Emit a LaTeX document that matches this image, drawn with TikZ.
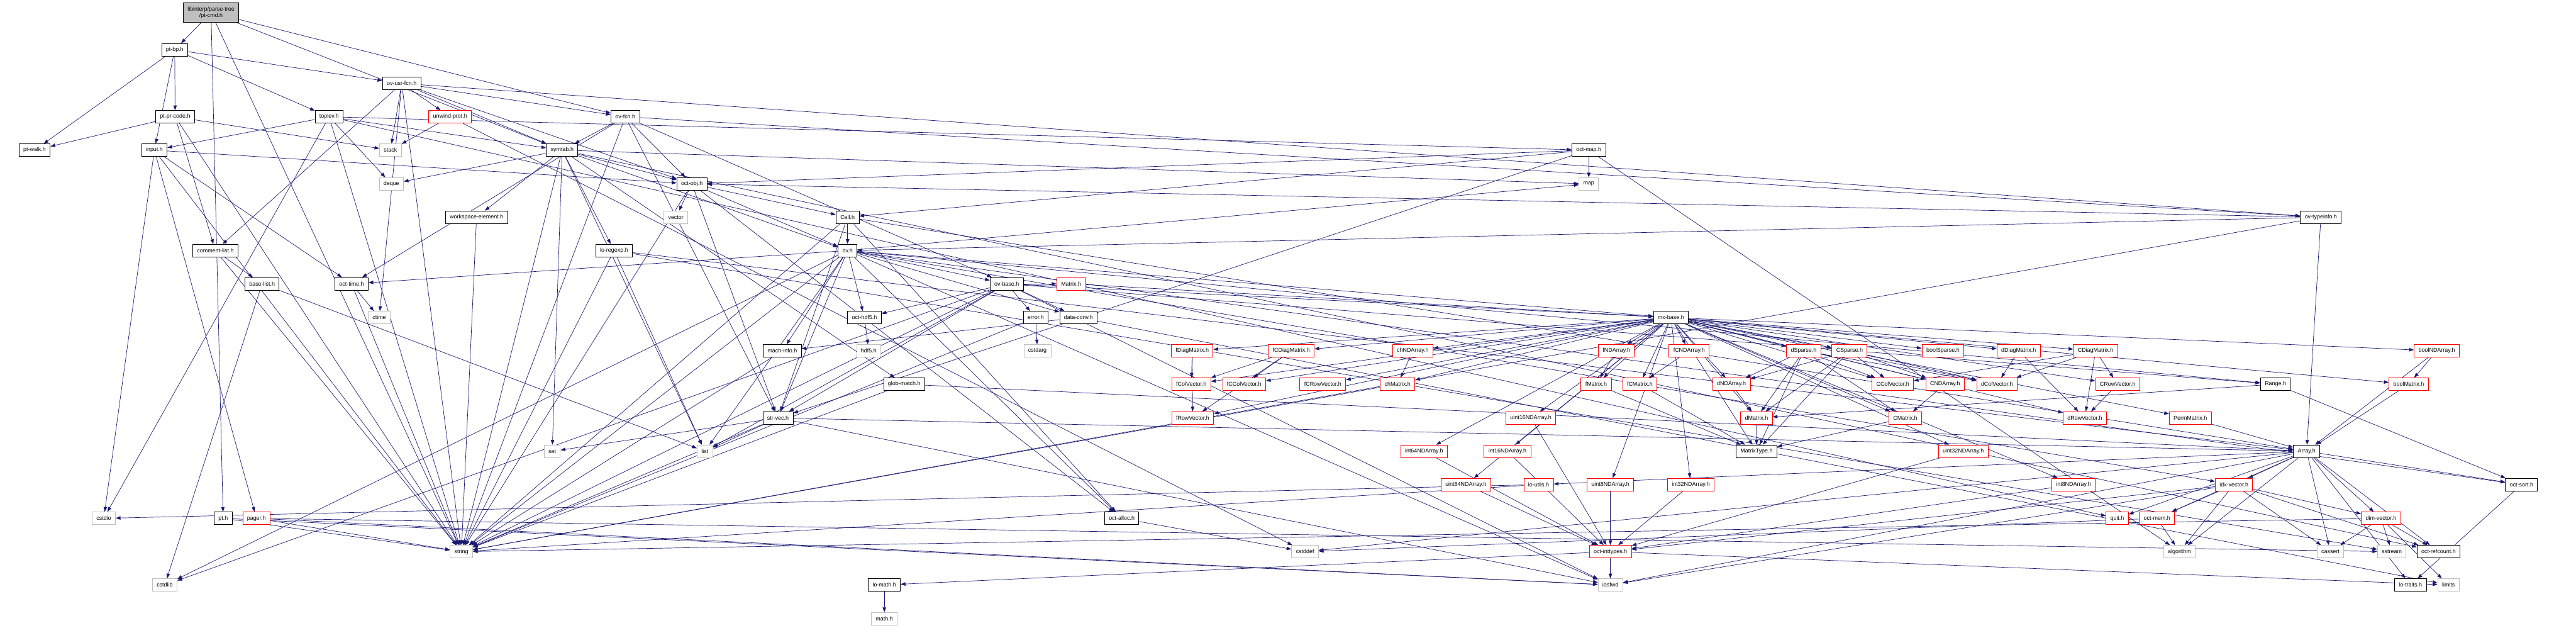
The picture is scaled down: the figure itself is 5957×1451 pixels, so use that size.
\documentclass[tikz,border=0pt]{standalone}
\usepackage{fontspec}
\setmainfont{Liberation Sans}
\usetikzlibrary{arrows.meta}
\definecolor{EdgeBlue}{RGB}{25, 25, 112}
\definecolor{SysGrey}{RGB}{191, 191, 191}
\definecolor{TruncRed}{RGB}{255, 0, 0}
\pgfdeclarelayer{edges}
\pgfsetlayers{edges,main}

\begin{document}
\begin{tikzpicture}[x=1pt, y=-1pt, font=\fontsize{13}{15}\selectfont,
  hdr/.style={draw=black, line width=1.3pt, fill=white, inner xsep=10pt, inner ysep=0pt, minimum height=29pt},
  trunc/.style={hdr, draw=TruncRed},
  sys/.style={hdr, draw=SysGrey},
  root/.style={hdr, fill=SysGrey, align=center, minimum height=45pt},
  dep/.style={draw=EdgeBlue, line width=1pt, -{Triangle[length=11pt, width=8pt]}}]
\useasboundingbox (0,0) rectangle (5957,1451);

\node[root] (pcmd) at (488,29) {libinterp/parse-tree\\/pt-cmd.h};
\node[hdr] (ptbp) at (404,115) {pt-bp.h};
\node[hdr] (ovusr) at (929,193) {ov-usr-fcn.h};
\node[hdr] (ptpr) at (405,270) {pt-pr-code.h};
\node[hdr] (toplev) at (761,270) {toplev.h};
\node[trunc] (unwind) at (1041,270) {unwind-prot.h};
\node[hdr] (ovfcn) at (1446,270) {ov-fcn.h};
\node[hdr] (ptwalk) at (80,347) {pt-walk.h};
\node[hdr] (input) at (357,347) {input.h};
\node[sys] (stack) at (903,347) {stack};
\node[hdr] (symtab) at (1300,347) {symtab.h};
\node[hdr] (octmap) at (3674,347) {oct-map.h};
\node[sys] (deque) at (905,425) {deque};
\node[hdr] (octobj) at (1600,425) {oct-obj.h};
\node[sys] (map) at (3674,425) {map};
\node[hdr] (wse) at (1102,502) {workspace-element.h};
\node[sys] (vector) at (1563,502) {vector};
\node[hdr] (cell) at (1960,502) {Cell.h};
\node[hdr] (typeinfo) at (5367,502) {ov-typeinfo.h};
\node[hdr] (cmtlist) at (498,579) {comment-list.h};
\node[hdr] (regexp) at (1420,579) {lo-regexp.h};
\node[hdr] (ov) at (1960,579) {ov.h};
\node[hdr] (baselist) at (606,656) {base-list.h};
\node[hdr] (octtime) at (813,656) {oct-time.h};
\node[hdr] (ovbase) at (2328,656) {ov-base.h};
\node[trunc] (matrix) at (2477,656) {Matrix.h};
\node[sys] (ctime) at (877,734) {ctime};
\node[hdr] (ohdf5) at (1999,734) {oct-hdf5.h};
\node[hdr] (error) at (2395,734) {error.h};
\node[hdr] (dataconv) at (2494,734) {data-conv.h};
\node[hdr] (mxbase) at (3864,734) {mx-base.h};

% matrix classes
\node[hdr] (machinfo) at (1809,811) {mach-info.h};
\node[sys] (hdf5) at (2009,811) {hdf5.h};
\node[sys] (cstdarg) at (2399,811) {cstdarg};
\node[trunc] (fDiag) at (2757,811) {fDiagMatrix.h};
\node[trunc] (fCDiag) at (2986,811) {fCDiagMatrix.h};
\node[trunc] (chNDA) at (3267,811) {chNDArray.h};
\node[trunc] (fNDA) at (3738,811) {fNDArray.h};
\node[trunc] (fCNDA) at (3906,811) {fCNDArray.h};
\node[trunc] (dSparse) at (4171,811) {dSparse.h};
\node[trunc] (CSparse) at (4277,811) {CSparse.h};
\node[trunc] (boolSparse) at (4493,811) {boolSparse.h};
\node[trunc] (dDiag) at (4668,811) {dDiagMatrix.h};
\node[trunc] (CDiag) at (4846,811) {CDiagMatrix.h};
\node[trunc] (boolNDA) at (5635,811) {boolNDArray.h};
\node[hdr] (globmatch) at (2091,888) {glob-match.h};
\node[trunc] (fColVec) at (2755,888) {fColVector.h};
\node[trunc] (fCColVec) at (2877,888) {fCColVector.h};
\node[trunc] (fCRowVec) at (3059,888) {fCRowVector.h};
\node[trunc] (chMatrix) at (3232,888) {chMatrix.h};
\node[trunc] (fMatrix) at (3691,888) {fMatrix.h};
\node[trunc] (fCMatrix) at (3792,888) {fCMatrix.h};
\node[trunc] (dNDA) at (4004,888) {dNDArray.h};
\node[trunc] (CColVec) at (4377,888) {CColVector.h};
\node[trunc] (CNDA) at (4498,888) {CNDArray.h};
\node[trunc] (dColVec) at (4618,888) {dColVector.h};
\node[trunc] (CRowVec) at (4897,888) {CRowVector.h};
\node[hdr] (range) at (5262,888) {Range.h};
\node[trunc] (boolMatrix) at (5570,888) {boolMatrix.h};
\node[hdr] (strvec) at (1799,966) {str-vec.h};
\node[trunc] (fRowVec) at (2758,966) {fRowVector.h};
\node[trunc] (uint16) at (3540,966) {uint16NDArray.h};
\node[trunc] (dMatrix) at (4062,966) {dMatrix.h};
\node[trunc] (CMatrix) at (4406,966) {CMatrix.h};
\node[trunc] (dRowVec) at (4821,966) {dRowVector.h};
\node[trunc] (perm) at (5065,966) {PermMatrix.h};
\node[sys] (set) at (1277,1043) {set};
\node[sys] (list) at (1630,1043) {list};
\node[trunc] (int64) at (3293,1043) {int64NDArray.h};
\node[trunc] (int16) at (3486,1043) {int16NDArray.h};
\node[hdr] (mtype) at (4062,1043) {MatrixType.h};
\node[trunc] (uint32) at (4540,1043) {uint32NDArray.h};
\node[hdr] (array) at (5334,1043) {Array.h};
\node[trunc] (uint64) at (3390,1120) {uint64NDArray.h};
\node[trunc] (loutils) at (3558,1120) {lo-utils.h};
\node[trunc] (uint8) at (3724,1120) {uint8NDArray.h};
\node[trunc] (int32) at (3910,1120) {int32NDArray.h};
\node[trunc] (int8) at (4795,1120) {int8NDArray.h};
\node[trunc] (idxvec) at (5166,1120) {idx-vector.h};
\node[hdr] (octsort) at (5831,1120) {oct-sort.h};

% leaves
\node[sys] (cstdio) at (240,1198) {cstdio};
\node[hdr] (pt) at (516,1198) {pt.h};
\node[trunc] (pager) at (593,1198) {pager.h};
\node[hdr] (octalloc) at (2594,1198) {oct-alloc.h};
\node[trunc] (quit) at (4896,1198) {quit.h};
\node[trunc] (octmem) at (4988,1198) {oct-mem.h};
\node[trunc] (dimvec) at (5506,1198) {dim-vector.h};
\node[sys] (string) at (1067,1275) {string};
\node[sys] (cstddef) at (3018,1275) {cstddef};
\node[trunc] (inttypes) at (3724,1275) {oct-inttypes.h};
\node[sys] (algorithm) at (5040,1275) {algorithm};
\node[sys] (cassert) at (5389,1275) {cassert};
\node[sys] (sstream) at (5531,1275) {sstream};
\node[hdr] (refcount) at (5639,1275) {oct-refcount.h};
\node[sys] (cstdlib) at (381,1352) {cstdlib};
\node[hdr] (lomath) at (2045,1352) {lo-math.h};
\node[sys] (iosfwd) at (3724,1352) {iosfwd};
\node[hdr] (lotraits) at (5574,1352) {lo-traits.h};
\node[sys] (limits) at (5662,1352) {limits};
\node[sys] (math) at (2045,1430) {math.h};

\begin{pgfonlayer}{edges}
\foreach \s/\ts in {
  pcmd/{ptbp,string,pt,ovfcn,symtab},
  ptbp/{ovusr,toplev,ptpr,input,ptwalk},
  ovusr/{ctime,string,stack,cmtlist,octobj,ovfcn,typeinfo,symtab,unwind},
  ptpr/{ptwalk,cmtlist,stack,string},
  toplev/{cstdio,deque,string,quit,input,octmap,symtab},
  input/{cstdio,string,octtime,octobj,pager},
  unwind/{stack,cstddef},
  ovfcn/{string,octtime,strvec,octobj,ovbase,typeinfo,symtab},
  symtab/{deque,list,map,set,string,globmatch,regexp,octobj,wse,refcount,ov},
  octmap/{algorithm,map,cell,octobj,strvec},
  octobj/{string,vector,octalloc,strvec,cell,ov},
  cell/{string,array,octalloc,strvec,ov},
  wse/{string},
  cmtlist/{baselist,string},
  baselist/{list,cstdlib},
  octtime/{ctime,string},
  regexp/{list,sstream,string,array},
  ov/{cstdlib,iosfwd,string,list,map,range,dataconv,idxvec,machinfo,mxbase,octalloc,octtime,strvec,ohdf5,octsort,ovbase},
  typeinfo/{string,array,octobj,ov},
  ovbase/{cstdlib,iosfwd,list,string,range,dataconv,mxbase,strvec,error,ohdf5,matrix},
  matrix/{mxbase},
  ohdf5/{hdf5},
  error/{cstdarg,string},
  dataconv/{limits,machinfo},
  mxbase/{mtype,chMatrix,boolMatrix,dMatrix,CMatrix,fMatrix,fCMatrix,dColVec,CColVec,fColVec,fCColVec,dRowVec,CRowVec,fRowVec,fCRowVec,dDiag,CDiag,fDiag,fCDiag,perm,boolSparse,dSparse,CSparse,boolNDA,chNDA,dNDA,CNDA,fNDA,fCNDA,int8,int16,int32,int64,uint8,uint16,uint32,uint64},
  machinfo/{string},
  globmatch/{string,array},
  fDiag/{fColVec,fRowVec},
  fCDiag/{fColVec,fCColVec,fRowVec},
  chNDA/{chMatrix},
  chMatrix/{string},
  fNDA/{fMatrix},
  fCNDA/{fCMatrix},
  fMatrix/{mtype},
  fCMatrix/{mtype},
  dSparse/{dMatrix,dNDA,CColVec,dColVec,CMatrix,mtype},
  CSparse/{dMatrix,dNDA,CColVec,CNDA,dColVec,mtype},
  dDiag/{dColVec,dRowVec},
  CDiag/{CColVec,dColVec,CRowVec,dRowVec},
  CNDA/{CMatrix},
  CRowVec/{dRowVec},
  dNDA/{dMatrix},
  dMatrix/{mtype},
  CMatrix/{mtype},
  boolNDA/{boolMatrix,array},
  boolMatrix/{array},
  perm/{array},
  range/{dMatrix,octsort},
  int8/{inttypes}, int16/{inttypes}, int32/{inttypes}, int64/{inttypes},
  uint8/{inttypes}, uint16/{inttypes}, uint32/{inttypes}, uint64/{inttypes},
  inttypes/{iosfwd,limits,lomath},
  loutils/{cstdio,string},
  strvec/{set,list,string,iosfwd,array},
  array/{cassert,cstddef,algorithm,iosfwd,dimvec,idxvec,lotraits,loutils,octsort,quit,octmem,refcount},
  idxvec/{cassert,algorithm,iosfwd,dimvec,octmem,refcount,inttypes},
  dimvec/{cassert,sstream,limits,refcount,string},
  octsort/{lotraits},
  octmem/{algorithm,cstddef},
  octalloc/{cstddef},
  lomath/{math},
  pager/{iosfwd,sstream,string},
  pt/{string,iosfwd}} {
  \foreach \t in \ts {
    \draw[dep] (\s) -- (\t);
  }
}
\end{pgfonlayer}
\end{tikzpicture}
\end{document}
